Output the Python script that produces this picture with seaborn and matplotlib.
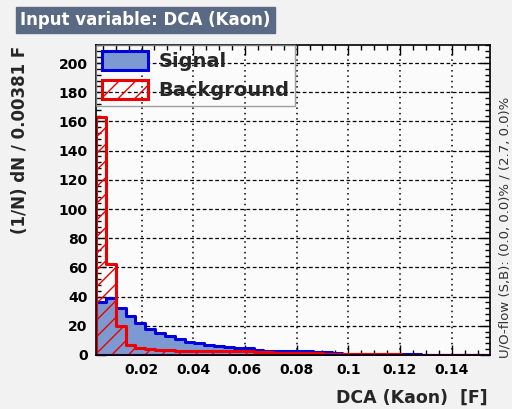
import numpy as np
import pandas as pd
import matplotlib
matplotlib.use("Agg")
import matplotlib.pyplot as plt
from matplotlib.ticker import MultipleLocator
import seaborn as sns

# Binning of the DCA (Kaon) variable
bin_width = 0.00381
x_min = 0.0024
n_bins = 40

# Normalised bin contents (1/N) dN per bin
signal = [36, 39, 32, 27, 22, 18, 15, 13, 11, 9, 8, 7, 6, 5.5, 5, 4.5, 3.5,
          3, 3, 2.8, 2.6, 2.4, 2.2, 2, 1.2, 1, 0.8, 0.7, 0.6, 0.5, 0.5, 0.4,
          0.4, 0.3, 0.3, 0.3, 0.2, 0.2, 0.2, 0.2]
background = [163, 62, 20, 7, 5, 4, 3.5, 3.5, 3, 3, 3, 3, 2.8, 2.6, 2.5, 2.4,
              2, 1.8, 1.6, 1.5, 1.4, 1.2, 1.1, 1, 0.8, 0.7, 0.6, 0.5, 0.5,
              0.4, 0.4, 0.3, 0.3, 0.3, 0.2, 0.2, 0.2, 0.2, 0.1, 0.1]

title_text = "Input variable: DCA (Kaon)"
x_label = "DCA (Kaon)  [F]"
y_label = "(1/N) dN / 0.00381 F"
overflow_text = "U/O-flow (S,B): (0.0, 0.0)% / (2.7, 0.0)%"

x_max = x_min + bin_width * n_bins
centers = x_min + bin_width * (np.arange(n_bins) + 0.5)
df_sig = pd.DataFrame({"DCA": centers, "w": signal})
df_bkg = pd.DataFrame({"DCA": centers, "w": background})

sns.set_theme(style="ticks")
plt.rcParams["font.family"] = ["DejaVu Sans"]
plt.rcParams["font.weight"] = "bold"
plt.rcParams["hatch.color"] = "#ee0000"
plt.rcParams["hatch.linewidth"] = 1.0

fig = plt.figure(figsize=(5.12, 4.09), dpi=100, facecolor="#f2f2f2")
ax = fig.add_axes([96 / 512, 1 - 355 / 409, (490 - 96) / 512, (355 - 45.5) / 409])
ax.set_facecolor("#fbfbfb")

sig_color_fill = "#7d99d1"
sig_color_line = "#0000dd"
bkg_color = "#ee0000"

sns.histplot(data=df_sig, x="DCA", weights="w", bins=n_bins,
             binrange=(x_min, x_max), element="step",
             fill=True, color=sig_color_fill, edgecolor=sig_color_line,
             linewidth=2.2, alpha=1.0, ax=ax, label="Signal")
sig_poly = ax.collections[-1]
sig_poly.set_facecolor(sig_color_fill)
sig_poly.set_edgecolor(sig_color_line)

sns.histplot(data=df_bkg, x="DCA", weights="w", bins=n_bins,
             binrange=(x_min, x_max), element="step",
             fill=True, color=bkg_color, edgecolor=bkg_color,
             linewidth=2.2, alpha=0.85, ax=ax, label="Background")
bkg_poly = ax.collections[-1]
bkg_poly.set_facecolor("none")
bkg_poly.set_edgecolor(bkg_color)
bkg_poly.set_hatch("//")

ax.set_xlim(x_min, x_max)
ax.set_ylim(0, 212)

ax.xaxis.set_major_locator(MultipleLocator(0.02))
ax.xaxis.set_minor_locator(MultipleLocator(0.005))
ax.yaxis.set_major_locator(MultipleLocator(20))
ax.yaxis.set_minor_locator(MultipleLocator(4))
ax.xaxis.set_major_formatter(matplotlib.ticker.FuncFormatter(
    lambda v, p: ("%g" % round(v, 4))))

ax.tick_params(axis="both", which="both", direction="in", top=True,
               right=True, colors="black", labelsize=10, width=1)
ax.tick_params(axis="both", which="major", length=7, pad=6)
ax.tick_params(axis="both", which="minor", length=3.5)
for lab in ax.get_xticklabels() + ax.get_yticklabels():
    lab.set_fontweight("bold")

ax.set_axisbelow(True)
ax.yaxis.grid(True, linestyle=(0, (3, 2)), color="black", linewidth=0.9)
ax.xaxis.grid(True, linestyle=(0, (1, 2.5)), color="black", linewidth=1.1)

for sp in ax.spines.values():
    sp.set_color("black")
    sp.set_linewidth(1.2)

ax.set_xlabel(x_label, fontsize=12.5, fontweight="bold", loc="right", labelpad=8)
ax.xaxis.label.set_x(487 / 490)
ax.set_ylabel(y_label, fontsize=12, fontweight="bold", loc="top", labelpad=21)

leg = ax.legend(loc="upper left", bbox_to_anchor=(0.0, 1.0), frameon=True,
                fontsize=14, handlelength=2.35, handleheight=1.1,
                borderaxespad=0.0, labelspacing=0.45, borderpad=0.3,
                handletextpad=0.55)
leg.get_frame().set_facecolor("none")
leg.get_frame().set_edgecolor("#888888")
leg.get_frame().set_linewidth(1.0)
leg.get_frame().set_boxstyle("square", pad=0.0)
for t in leg.get_texts():
    t.set_fontweight("bold")

fig.text(505 / 512, 1 - 227 / 409, overflow_text, rotation=90, fontsize=9.5,
         ha="center", va="center", color="#333333", fontweight="normal")

fig.text(20 / 512, 1 - 20 / 409, title_text, fontsize=12, fontweight="bold",
         color="white", ha="left", va="center",
         bbox=dict(boxstyle="square,pad=0.25", facecolor="#5b6a84",
                   edgecolor="#5b6a84"))

fig.savefig("out.png", dpi=100, facecolor=fig.get_facecolor())
